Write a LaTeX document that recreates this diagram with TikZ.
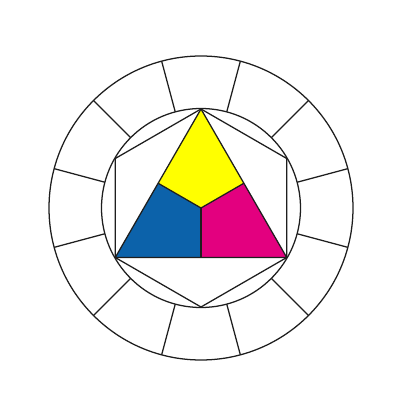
\documentclass[tikz,border=0pt]{standalone}
\usetikzlibrary{calc}
\definecolor{wheelyellow}{RGB}{255,255,0}
\definecolor{wheelblue}{RGB}{12,98,170}
\definecolor{wheelmagenta}{RGB}{227,0,127}
\definecolor{wheelline}{RGB}{30,30,30}

\begin{document}
\begin{tikzpicture}[x=0.025cm, y=0.025cm,
  rim/.style={draw=wheelline, line width=0.9pt, line join=round}]
  \useasboundingbox (-201,-192) rectangle (199,208);
  \coordinate (O) at (0,0);

  % Triangle corners and side midpoints
  \coordinate (Y) at (90:99);
  \coordinate (B) at (210:99);
  \coordinate (M) at (330:99);
  \coordinate (YB) at ($(Y)!0.5!(B)$);
  \coordinate (YM) at ($(Y)!0.5!(M)$);
  \coordinate (BM) at ($(B)!0.5!(M)$);

  % Hexagon corners
  \coordinate (H1) at (30:99);
  \coordinate (H2) at (270:99);
  \coordinate (H3) at (150:99);

  % Primary fields
  \fill[wheelyellow] (Y) -- (YM) -- (O) -- (YB) -- cycle;
  \fill[wheelblue] (B) -- (YB) -- (O) -- (BM) -- cycle;
  \fill[wheelmagenta] (M) -- (BM) -- (O) -- (YM) -- cycle;
  \draw[rim] (Y) -- (B) -- (M) -- cycle;
  \draw[rim] (YB) -- (O) -- (YM);
  \draw[rim] (O) -- (BM);

  % Hexagon
  \draw[rim] (Y) -- (H1) -- (M) -- (H2) -- (B) -- (H3) -- cycle;

  % Twelve-part ring
  \draw[rim] (O) circle[radius=99.5];
  \draw[rim] (O) circle[radius=152];
  \foreach \a in {15,45,...,345}
    \draw[rim] (\a:99.5) -- (\a:152);
\end{tikzpicture}
\end{document}
